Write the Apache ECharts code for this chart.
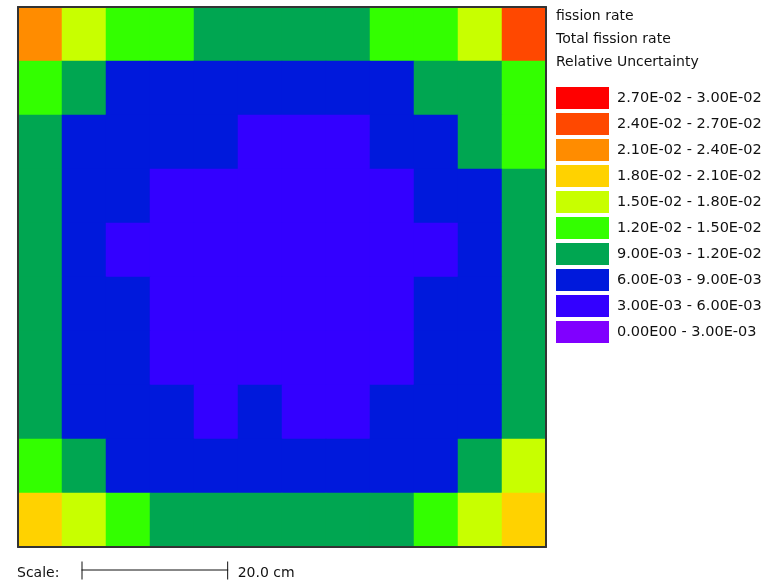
<!DOCTYPE html>
<html>
<head>
<meta charset="utf-8">
<title>fission rate - Relative Uncertainty</title>
<script src="https://cdn.jsdelivr.net/npm/echarts@6/dist/echarts.min.js"></script>
<style>
  html, body { margin: 0; padding: 0; background: #fff; }
  #main { width: 778px; height: 580px; }
</style>
</head>
<body>
<div id="main"></div>
<script>
// mesh cells (12 columns x 10 rows), 6 cm wide each
var cols = ["1", "2", "3", "4", "5", "6", "7", "8", "9", "10", "11", "12"];
var rows = ["1", "2", "3", "4", "5", "6", "7", "8", "9", "10"];
var cellWidthCm = 6;

// relative uncertainty per cell, top row first
var uncertainty = [
  [0.0225, 0.0165, 0.0135, 0.0125, 0.0110, 0.0105, 0.0105, 0.0110, 0.0125, 0.0135, 0.0165, 0.0255],
  [0.0135, 0.0105, 0.0082, 0.0074, 0.0069, 0.0066, 0.0066, 0.0069, 0.0074, 0.0100, 0.0110, 0.0135],
  [0.0108, 0.0078, 0.0068, 0.0063, 0.0061, 0.0058, 0.0057, 0.0059, 0.0062, 0.0069, 0.0094, 0.0128],
  [0.0105, 0.0072, 0.0062, 0.0057, 0.0053, 0.0051, 0.0051, 0.0053, 0.0058, 0.0063, 0.0075, 0.0106],
  [0.0104, 0.0070, 0.0059, 0.0054, 0.0050, 0.0048, 0.0048, 0.0050, 0.0054, 0.0059, 0.0069, 0.0103],
  [0.0103, 0.0070, 0.0061, 0.0055, 0.0050, 0.0047, 0.0047, 0.0050, 0.0055, 0.0061, 0.0071, 0.0104],
  [0.0105, 0.0071, 0.0063, 0.0057, 0.0052, 0.0049, 0.0049, 0.0052, 0.0057, 0.0063, 0.0073, 0.0106],
  [0.0108, 0.0076, 0.0066, 0.0061, 0.0058, 0.0061, 0.0058, 0.0059, 0.0062, 0.0068, 0.0077, 0.0110],
  [0.0132, 0.0102, 0.0080, 0.0071, 0.0067, 0.0065, 0.0065, 0.0067, 0.0071, 0.0079, 0.0103, 0.0156],
  [0.0195, 0.0162, 0.0134, 0.0114, 0.0106, 0.0102, 0.0102, 0.0106, 0.0114, 0.0134, 0.0163, 0.0198]
];

// legend classes
var binEdges = [0, 0.003, 0.006, 0.009, 0.012, 0.015, 0.018, 0.021, 0.024, 0.027, 0.030];
var binColors = ["#8000ff", "#3300ff", "#0019dc", "#00a651", "#33ff00",
                 "#c8ff00", "#ffd200", "#ff8c00", "#ff4800", "#ff0000"];

function sci(v) {
  if (v === 0) return "0.00E00";
  var p = v.toExponential(2).split("e");
  var e = parseInt(p[1], 10);
  var es = (e < 0 ? "-" : "") + (Math.abs(e) < 10 ? "0" : "") + Math.abs(e);
  return p[0] + "E" + es;
}

var data = [];
uncertainty.forEach(function (r, j) {
  r.forEach(function (v, i) {
    data.push([i, j, v]);
  });
});

var pieces = [];
for (var k = 0; k < binColors.length; k++) {
  pieces.push({
    min: binEdges[k],
    max: binEdges[k + 1],
    color: binColors[k],
    label: sci(binEdges[k]) + " - " + sci(binEdges[k + 1])
  });
}

// whole-pixel cells so neighbouring rects do not leave seams
var gridLeft = 18, gridTop = 7, gridW = 528, gridH = 540;
var pxPerCm = gridW / (cols.length * cellWidthCm);
var barLen = 20 * pxPerCm;

var font = "DejaVu Sans";
var frame = { show: true, onZero: false, lineStyle: { color: "#333", width: 2 } };

var chart = echarts.init(document.getElementById("main"));
var option = {
  animation: false,
  backgroundColor: "#fff",
  textStyle: { fontFamily: font },
  title: {
    left: 556,
    top: 5,
    padding: 0,
    text: "fission rate\nTotal fission rate\nRelative Uncertainty",
    textStyle: { fontFamily: font, fontSize: 14, fontWeight: "normal", color: "#111", lineHeight: 23 }
  },
  grid: { left: gridLeft, top: gridTop, width: gridW, height: gridH },
  xAxis: [
    { type: "category", data: cols, position: "bottom", axisLine: frame, axisTick: { show: false },
      axisLabel: { show: false }, splitLine: { show: false }, z: 10 },
    { type: "category", data: cols, position: "top", axisLine: frame, axisTick: { show: false },
      axisLabel: { show: false }, splitLine: { show: false }, z: 10 }
  ],
  yAxis: [
    { type: "category", data: rows, inverse: true, position: "left", axisLine: frame, axisTick: { show: false },
      axisLabel: { show: false }, splitLine: { show: false }, z: 10 },
    { type: "category", data: rows, inverse: true, position: "right", axisLine: frame, axisTick: { show: false },
      axisLabel: { show: false }, splitLine: { show: false }, z: 10 }
  ],
  visualMap: {
    type: "piecewise",
    dimension: 2,
    seriesIndex: 0,
    pieces: pieces,
    orient: "vertical",
    align: "left",
    left: 556,
    top: 87,
    padding: 0,
    itemWidth: 53,
    itemHeight: 22,
    itemGap: 4,
    itemSymbol: "rect",
    textGap: 8,
    selectedMode: false,
    hoverLink: false,
    textStyle: { fontFamily: font, fontSize: 14.5, color: "#111" }
  },
  series: [{
    type: "heatmap",
    xAxisIndex: 0,
    yAxisIndex: 0,
    data: data,
    itemStyle: { borderWidth: 0 },
    emphasis: { disabled: true }
  }],
  graphic: [
    { type: "text", left: 17, top: 566,
      style: { text: "Scale:", font: "14px " + font, fill: "#111" } },
    { type: "group", left: 79, top: 559, children: [
      { type: "line", shape: { x1: 0, y1: 8.5, x2: barLen, y2: 8.5 }, style: { stroke: "#111", lineWidth: 1 } },
      { type: "line", shape: { x1: 0.5, y1: 0, x2: 0.5, y2: 18 }, style: { stroke: "#111", lineWidth: 1 } },
      { type: "line", shape: { x1: barLen - 0.5, y1: 0, x2: barLen - 0.5, y2: 18 }, style: { stroke: "#111", lineWidth: 1 } }
    ] },
    { type: "text", left: 79 + barLen + 12, top: 566,
      style: { text: "20.0 cm", font: "14px " + font, fill: "#111" } }
  ]
};
chart.setOption(option);
</script>
</body>
</html>
